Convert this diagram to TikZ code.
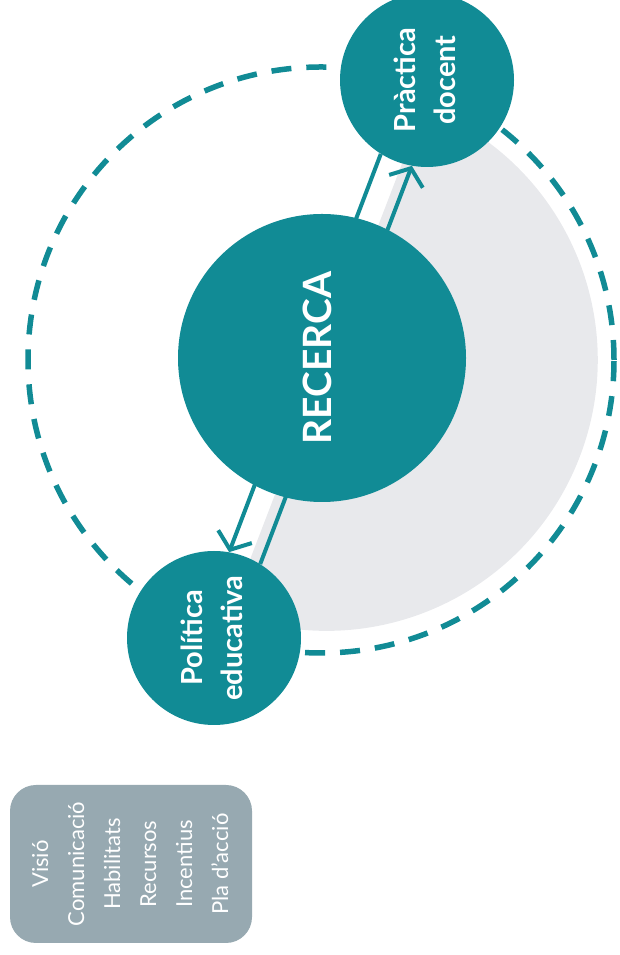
\documentclass[tikz,border=0pt]{standalone}
\usepackage{fontspec}
\usepackage{graphicx}
\setmainfont{Lato}
\usepackage{tikz}
\usetikzlibrary{arrows.meta}
\definecolor{myteal}{RGB}{17,139,149}
\definecolor{mygrey}{RGB}{232,233,236}
\definecolor{myslate}{RGB}{151,169,177}
\newcommand{\turn}[1]{\rotatebox{90}{\begin{tabular}{@{}c@{}}#1\end{tabular}}}

\begin{document}
\begin{tikzpicture}[x=1pt, y=1pt,
    bubble/.style={circle, fill=myteal, text=white, inner sep=0pt, font=\bfseries},
    orbit/.style={circle, draw=myteal, line width=5.5pt, dash pattern=on 20pt off 15pt, inner sep=0pt},
    link/.style={myteal, line width=4pt, -{Straight Barb[length=14pt, width=36pt, line width=4pt]}}]
    \useasboundingbox (0,0) rectangle (619,955);

    % shaded half and dashed ring
    \fill[mygrey] (326.7,595.2) ++(69:271) arc[start angle=69, end angle=-111, radius=271] -- cycle;
    \node[orbit, minimum size=586pt] (O) at (321,595) {};

    \coordinate (R0) at (322,597);
    \node[bubble, minimum size=174pt] (P) at (427,875) {\fontsize{29}{40}\selectfont\turn{Pràctica\\docent}};
    \node[bubble, minimum size=174pt] (E) at (214,317) {\fontsize{29}{40}\selectfont\turn{Política\\educativa}};

    \path (P.238) edge [link] (E.80)
          (E.58) edge [link] (P.260);

    \node[bubble, minimum size=288pt] (R) at (R0) {\fontsize{39}{48}\selectfont\turn{RECERCA}};

    \node[fill=myslate, rounded corners=26pt, minimum width=242pt, minimum height=158pt, text=white,
          font=\fontsize{22}{36}\selectfont] (L) at (131,91)
          {\turn{Visió\\Comunicació\\Habilitats\\Recursos\\Incentius\\Pla d'acció}};
\end{tikzpicture}
\end{document}
